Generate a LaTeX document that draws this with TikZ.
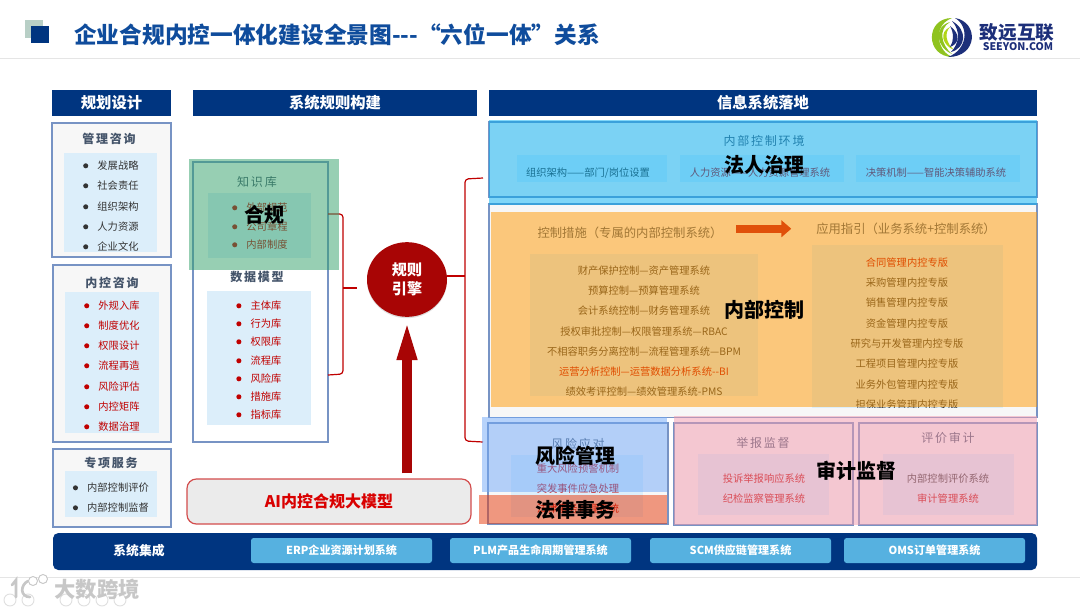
\documentclass[tikz,border=0pt]{standalone}
\usepackage{xcolor}
\usepackage{fontspec}
\setmainfont{Noto Sans CJK SC}
\newfontfamily\trackedcjk[LetterSpace=15]{Noto Sans CJK SC}
\usetikzlibrary{shapes.geometric, arrows.meta, positioning, fit, shadows}

\definecolor{navybar}{HTML}{003580}
\definecolor{titleblue}{HTML}{0F4C9C}
\definecolor{edgeblue}{HTML}{7793C4}
\definecolor{innerblue}{HTML}{DCEEFA}
\definecolor{panelgray}{HTML}{F7F7F7}
\definecolor{slate}{HTML}{44546A}
\definecolor{darkred}{HTML}{C00000}
\definecolor{enginered}{HTML}{A80505}
\definecolor{btnblue}{HTML}{56B1E0}
\definecolor{burnt}{HTML}{E0500A}
\definecolor{logogreen}{HTML}{8FC31F}
\definecolor{logonavy}{HTML}{1D2F7A}

\begin{document}
\begin{tikzpicture}[
  x=0.75pt, y=-0.75pt,
  headbar/.style={rectangle, fill=navybar, inner sep=0pt},
  headtext/.style={text=white, inner sep=0pt, font=\fontsize{11.5}{14}\selectfont\bfseries},
  panel/.style={rectangle, draw=edgeblue, fill=panelgray, line width=0.8pt, inner sep=0pt},
  inner/.style={rectangle, fill=innerblue, inner sep=0pt},
  paneltitle/.style={text=slate, inner sep=0pt, font=\fontsize{9}{11}\selectfont\trackedcjk},
  paneltitlebold/.style={text=slate, inner sep=0pt, font=\fontsize{9}{11}\selectfont\trackedcjk\bfseries},
  widetitle/.style={text=slate, inner sep=0pt, font=\fontsize{9.25}{11}\selectfont},
  itemdark/.style={text=black!80, inner sep=0pt, yshift=-0.6pt, font=\fontsize{7.7}{9}\selectfont, label={[dotdark]left:{}}},
  itemred/.style={text=darkred, inner sep=0pt, yshift=-0.6pt, font=\fontsize{7.7}{9}\selectfont, label={[dotred]left:{}}},
  dotdark/.style={circle, fill=black!80, inner sep=0pt, minimum size=3.8pt, label distance=6.5pt},
  dotred/.style={circle, fill=darkred, inner sep=0pt, minimum size=3.8pt, label distance=6.5pt},
  linedark/.style={text=black!80, inner sep=0pt, yshift=-0.6pt, font=\fontsize{7.7}{9}\selectfont},
  linered/.style={text=darkred, inner sep=0pt, yshift=-0.6pt, font=\fontsize{7.7}{9}\selectfont},
  overlay/.style={rectangle, inner sep=0pt, fill opacity=0.5},
  overtext/.style={text=black, inner sep=0pt, font=\fontsize{15}{18}\selectfont\bfseries},
  bracket/.style={draw=darkred, line width=0.9pt, rounded corners=2.5pt},
  button/.style={rectangle, fill=btnblue, rounded corners=2pt, inner sep=0pt},
  buttontext/.style={text=white, inner sep=0pt, font=\fontsize{8.3}{10}\selectfont\bfseries}
]
\useasboundingbox (0,0) rectangle (1080,608);
\fill[white] (0,0) rectangle (1080,608);

% Title strip
\node (squareback) [rectangle, fill={rgb,255:red,184;green,207;blue,198}, inner sep=0pt, fit={(25,20) (43,38)}] {};
\node (squarefront) [rectangle, fill=navybar, inner sep=0pt, fit={(31,26) (49,43)}] {};
\node (title) [anchor=west, text=titleblue, inner sep=0pt, font=\fontsize{17.03}{20}\selectfont\bfseries] at (74,35) {企业合规内控一体化建设全景图-{}-{}-“六位一体”关系};
\draw [black!10] (0,58) -- (1080,58);
\draw [black!10] (0,577) -- (1080,577);

% Logo
\fill [logogreen] (952,18) .. controls (925,18) and (925,57) .. (953,57) .. controls (938,53) and (931,26) .. (952,18) -- cycle;
\fill [logogreen] (950,22) .. controls (933,27) and (936,47) .. (952,54) .. controls (941,45) and (938,29) .. (950,22) -- cycle;
\fill [logogreen!70!yellow] (950,27) .. controls (939,32) and (942,45) .. (954,50) .. controls (946,43) and (944,33) .. (950,27) -- cycle;
\fill [logonavy] (948,57) .. controls (978,57) and (979,22) .. (955,18) .. controls (970,27) and (967,50) .. (948,57) -- cycle;
\fill [logonavy] (951,52) .. controls (966,48) and (968,30) .. (952,21) .. controls (961,31) and (959,44) .. (951,52) -- cycle;
\fill [logonavy] (950,47) .. controls (959,44) and (961,34) .. (950,26) .. controls (954,33) and (954,41) .. (950,47) -- cycle;
\node (logocn) [text=logonavy, inner sep=0pt, font=\fontsize{14}{16}\selectfont\bfseries] at (1017,32) {致远互联};
\node (logoen) [text=logonavy, inner sep=0pt, font=\fontsize{7.9}{10}\selectfont\bfseries] at (1018,47) {SEEYON.COM};

% Column headers
\node (planhead) [headbar, fit={(52,90) (171,116)}] {};
\node (plantext) [headtext] at (planhead) {规划设计};
\node (rulehead) [headbar, fit={(193,90) (477,116)}] {};
\node (ruletext) [headtext] at (rulehead) {系统规则构建};
\node (infohead) [headbar, fit={(489,90) (1037,116)}] {};
\node (infotext) [headtext] at (infohead) {信息系统落地};

% Planning column
\node (mgmtpanel) [panel, fit={(52,123) (171,257)}] {};
\node (mgmtinner) [inner, fit={(64,153) (157,252)}] {};
\node (mgmttitle) [paneltitlebold] at (109,139) {管理咨询};
\node (mgmt1) [itemdark] at (118,165) {发展战略};
\node (mgmt2) [itemdark] at (118,185) {社会责任};
\node (mgmt3) [itemdark] at (118,206) {组织架构};
\node (mgmt4) [itemdark] at (118,226) {人力资源};
\node (mgmt5) [itemdark] at (118,246) {企业文化};

\node (ctrlpanel) [panel, fit={(53,265) (171,442)}] {};
\node (ctrlinner) [inner, fit={(65,292) (159,433)}] {};
\node (ctrltitle) [paneltitlebold] at (112,283) {内控咨询};
\node (ctrl1) [itemred] at (119,305) {外规入库};
\node (ctrl2) [itemred] at (119,325) {制度优化};
\node (ctrl3) [itemred] at (119,345) {权限设计};
\node (ctrl4) [itemred] at (119,365) {流程再造};
\node (ctrl5) [itemred] at (119,386) {风险评估};
\node (ctrl6) [itemred] at (119,406) {内控矩阵};
\node (ctrl7) [itemred] at (119,426) {数据治理};

\node (specpanel) [panel, fit={(53,449) (171,527)}] {};
\node (specinner) [inner, fit={(65,471) (157,517)}] {};
\node (spectitle) [paneltitlebold] at (111,463) {专项服务};
\node (spec1) [itemdark] at (118,487) {内部控制评价};
\node (spec2) [itemdark] at (118,507) {内部控制监督};

% Rule column
\node (rulepanel) [panel, fill=white, fit={(193,162) (328,442)}] {};
\node (knowinner) [inner, fit={(208,193) (311,258)}] {};
\node (knowtitle) [paneltitle] at (257,182) {知识库};
\node (know1) [itemred] at (267,207) {外部规范};
\node (know2) [itemred] at (267,226) {公司章程};
\node (know3) [itemred] at (267,244) {内部制度};
\node (datainner) [inner, fit={(207,291) (311,425)}] {};
\node (datatitle) [paneltitlebold] at (257,277) {数据模型};
\node (data1) [itemred] at (266,305) {主体库};
\node (data2) [itemred] at (266,323) {行为库};
\node (data3) [itemred] at (266,341) {权限库};
\node (data4) [itemred] at (266,360) {流程库};
\node (data5) [itemred] at (266,378) {风险库};
\node (data6) [itemred] at (266,396) {措施库};
\node (data7) [itemred] at (266,414) {指标库};

% Engine, model and brackets
\node (engine) [ellipse, fill=enginered, minimum width=60pt, minimum height=56pt, inner sep=0pt, drop shadow={shadow xshift=0pt, shadow yshift=-1pt, opacity=0.25}, align=center, text=white, font=\fontsize{11.3}{14}\selectfont\bfseries] at (407,279.5) {规则\\引擎};
\node (aimodel) [rectangle, draw=darkred!70, fill=black!8, line width=0.9pt, rounded corners=7pt, inner sep=0pt, fit={(187,479) (471,524)}] {};
\node (aitext) [text=red!85!black, inner sep=0pt, font=\fontsize{12}{15}\selectfont\bfseries] at (aimodel) {AI内控合规大模型};
\draw [enginered, line width=6.8pt, -{Triangle[length=30pt, width=13.5pt]}] (aimodel.north -| engine) ++(0,-5) -- (407,320);

\coordinate (lefttop) at (328,214);
\coordinate (leftbot) at (328,375);
\coordinate (lefttip) at (357,288);
\coordinate (righttop) at (483,178);
\coordinate (rightbot) at (483,442);
\draw [bracket] (lefttop) -- (343,214) -- (343,374) -- (leftbot);
\draw [bracket, rounded corners=0pt] (343,288) -- (lefttip);
\draw [bracket] (righttop) -- (465,179) -- (465,441) -- (rightbot);
\draw [bracket, rounded corners=0pt] (447,276) -- (465,276);

% Information column
\node (envpanel) [panel, draw=edgeblue, fit={(489,122) (1037,197)}] {};
\node (envinner1) [inner, fit={(517,155) (667,182)}] {};
\node (envinner2) [inner, fit={(680,155) (844,182)}] {};
\node (envinner3) [inner, fit={(856,155) (1020,182)}] {};
\node (envtitle) [paneltitle] at (764,141) {内部控制环境};
\node (env1) [linedark] at (588,172) {组织架构——部门/岗位设置};
\node (env2) [linered] at (760,172) {人力资源——人力资源管理系统};
\node (env3) [linered] at (936,172) {决策机制——智能决策辅助系统};

\node (ctlpanel) [panel, fit={(489,204) (1037,417)}] {};
\node (measinner) [inner, fit={(530,254) (758,396)}] {};
\node (guidinner) [inner, fit={(812,245) (1003,408)}] {};
\node (meastitle) [widetitle] at (630,233) {控制措施（专属的内部控制系统）};
\node (guidtitle) [widetitle] at (906,229) {应用指引（业务系统+控制系统）};
\node (meas1) [linedark] at (644,270) {财产保护控制—资产管理系统};
\node (meas2) [linedark] at (644,290) {预算控制—预算管理系统};
\node (meas3) [linedark] at (644,310) {会计系统控制—财务管理系统};
\node (meas4) [linedark] at (644,331) {授权审批控制—权限管理系统—RBAC};
\node (meas5) [linedark] at (644,351) {不相容职务分离控制—流程管理系统—BPM};
\node (meas6) [linered] at (644,371) {运营分析控制—运营数据分析系统-{}-BI};
\node (meas7) [linedark] at (644,391) {绩效考评控制—绩效管理系统-PMS};
\node (guid1) [linered] at (907,262) {合同管理内控专版};
\node (guid2) [linedark] at (907,282) {采购管理内控专版};
\node (guid3) [linedark] at (907,302) {销售管理内控专版};
\node (guid4) [linedark] at (907,323) {资金管理内控专版};
\node (guid5) [linedark] at (907,343) {研究与开发管理内控专版};
\node (guid6) [linedark] at (907,363) {工程项目管理内控专版};
\node (guid7) [linedark] at (907,384) {业务外包管理内控专版};
\node (guid8) [linedark] at (907,404) {担保业务管理内控专版};
\node (ctlfoot) [rectangle, fill=panelgray, inner sep=0pt, fit={(490,408) (1036,416.5)}] {};

\node (riskpanel) [panel, fit={(488,423) (668,524)}] {};
\node (riskinner) [inner, fit={(511,455) (643,517)}] {};
\node (risktitle) [paneltitle] at (578,444) {风险应对};
\node (risk1) [linered] at (578,468) {重大风险预警机制};
\node (risk2) [linered] at (578,488) {突发事件应急处理};
\node (risk3) [linered] at (578,508) {法律事务管理系统};
\node (reportpanel) [panel, fit={(674,423) (853,525)}] {};
\node (reportinner) [inner, fit={(698,454) (829,515)}] {};
\node (reporttitle) [paneltitle] at (763,443) {举报监督};
\node (report1) [linered] at (764,478) {投诉举报响应系统};
\node (report2) [linered] at (764,498) {纪检监察管理系统};
\node (auditpanel) [panel, fit={(859,423) (1037,525)}] {};
\node (auditinner) [inner, fit={(883,454) (1014,515)}] {};
\node (audittitle) [paneltitle] at (948,438) {评价审计};
\node (audit1) [linedark] at (948,478) {内部控制评价系统};
\node (audit2) [linered] at (948,498) {审计管理系统};

% Translucent layers
\node (greenlayer) [overlay, fill={rgb,255:red,49;green,161;blue,105}, fit={(189,159) (339,270)}] {};
\node (skylayer) [overlay, fill={rgb,255:red,0;green,175;blue,243}, fit={(489,120) (1037,205)}] {};
\node (orangelayer) [overlay, fill={rgb,255:red,255;green,153;blue,1}, fit={(491,212) (1037,407)}] {};
\node (bluelayer) [overlay, fill={rgb,255:red,113;green,169;blue,249}, fit={(482,417) (667,492)}] {};
\node (redlayer) [overlay, fill={rgb,255:red,233;green,57;blue,9}, fit={(479,495) (667,524)}] {};
\node (pinklayer) [overlay, fill={rgb,255:red,243;green,153;blue,173}, fit={(674,416) (1037,525)}] {};
\draw [-{Triangle[length=7.5pt, width=12.5pt]}, line width=6pt, burnt] (guidinner.north west -| measinner.east) ++(-22,-16) -- ++(55,0);

\node (heguilabel) [overtext] at (264,215) {合规};
\node (legallabel) [overtext] at (764,165) {法人治理};
\node (controllabel) [overtext] at (764,310) {内部控制};
\node (risklabel) [overtext] at (575,456) {风险管理};
\node (lawlabel) [overtext] at (575,510) {法律事务};
\node (auditlabel) [overtext] at (856,471) {审计监督};

% Integration band
\node (band) [rectangle, fill=navybar, rounded corners=4pt, inner sep=0pt, fit={(53,533) (1037,570)}] {};
\node (bandlabel) [text=white, inner sep=0pt, font=\fontsize{9.6}{12}\selectfont\bfseries] at (139,551) {系统集成};
\node (erp) [button, fit={(251,538) (432,563)}] {};
\node (erptext) [buttontext] at (erp) {ERP企业资源计划系统};
\node (plm) [button, fit={(450,538) (631,563)}] {};
\node (plmtext) [buttontext] at (plm) {PLM产品生命周期管理系统};
\node (scm) [button, fit={(650,538) (831,563)}] {};
\node (scmtext) [buttontext] at (scm) {SCM供应链管理系统};
\node (oms) [button, fit={(844,538) (1025,563)}] {};
\node (omstext) [buttontext] at (oms) {OMS订单管理系统};

% Watermark
\draw [black!12, line width=0.7pt] (10,600) circle (6) (28,600) circle (6) (66,600) circle (6) (84,600) circle (6) (102,600) circle (6) (120,600) circle (6);
\draw [black!22, line width=2pt, line cap=round] (12,585) -- (16,580) -- (16,597) (28,581) .. controls (20,585) and (20,597) .. (30,597);
\draw [black!22, line width=0.7pt, fill=white] (33,581) circle (4.5) (43,579) circle (4.5);
\node (marktext) [text=black!22, inner sep=0pt, font=\fontsize{16}{18}\selectfont\bfseries] at (97,589) {大数跨境};

\end{tikzpicture}
\end{document}
